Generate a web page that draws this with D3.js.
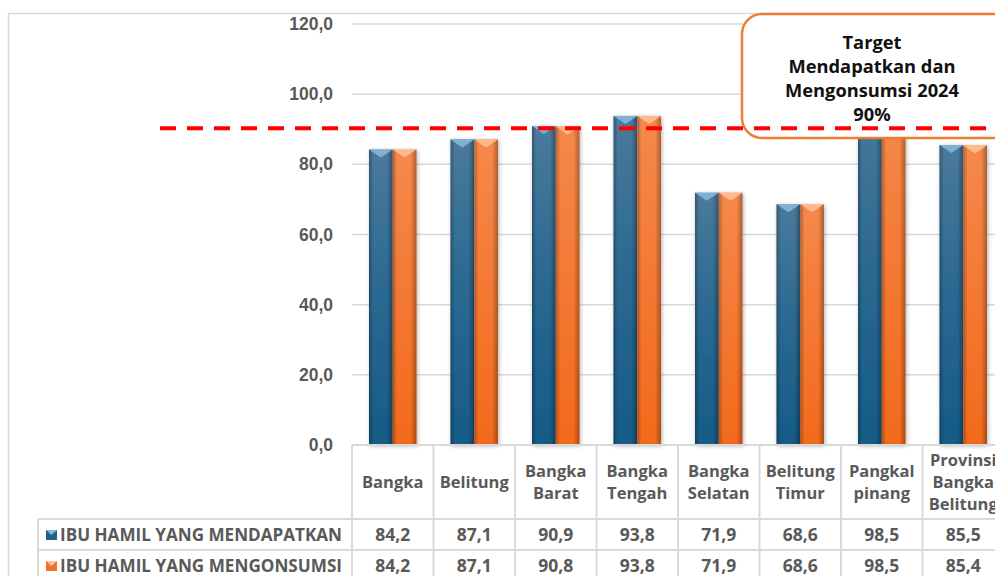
<!DOCTYPE html>
<html>
<head>
<meta charset="utf-8">
<script src="https://cdn.jsdelivr.net/npm/d3@7"></script>
<style>
  html, body { margin: 0; padding: 0; background: #fff; }
  svg { display: block; }
</style>
</head>
<body>
<svg id="chart" width="995" height="576"></svg>
<script>
// ---- data ----
const categories = ["Bangka", "Belitung", "Bangka Barat", "Bangka Tengah", "Bangka Selatan", "Belitung Timur", "Pangkal pinang", "Provinsi Bangka Belitung"];
const categoryLines = [["Bangka"], ["Belitung"], ["Bangka", "Barat"], ["Bangka", "Tengah"], ["Bangka", "Selatan"], ["Belitung", "Timur"], ["Pangkal", "pinang"], ["Provinsi", "Bangka", "Belitung"]];
const seriesNames = ["IBU HAMIL YANG MENDAPATKAN", "IBU HAMIL YANG MENGONSUMSI"];
const mendapatkan = [84.2, 87.1, 90.9, 93.8, 71.9, 68.6, 98.5, 85.5];
const mengonsumsi = [84.2, 87.1, 90.8, 93.8, 71.9, 68.6, 98.5, 85.4];
const yTicks = [0, 20, 40, 60, 80, 100, 120];
const targetValue = 90;
const targetLines = ["Target", "Mendapatkan dan", "Mengonsumsi 2024", "90%"];

const seriesValues = [mendapatkan, mengonsumsi];
const fmt = v => v.toFixed(1).replace(".", ",");

const svg = d3.select("#chart");
const defs = svg.append("defs");

// gradients
function makeGrad(id, stops, horiz) {
  const g = defs.append("linearGradient").attr("id", id)
    .attr("x1", 0).attr("y1", 0).attr("x2", horiz ? 1 : 0).attr("y2", horiz ? 0 : 1);
  stops.forEach(s => g.append("stop").attr("offset", s[0]).attr("stop-color", s[1]).attr("stop-opacity", s[2] == null ? 1 : s[2]));
}
makeGrad("gBlue", [[0, "#4a7a9c"], [0.45, "#2d6a92"], [1, "#155a86"]]);
makeGrad("gOrange", [[0, "#f5894c"], [0.45, "#f47a35"], [1, "#f26a1c"]]);
makeGrad("gEdge", [[0, "#000", 0.28], [0.18, "#000", 0.0], [0.75, "#000", 0.0], [1, "#000", 0.3]], true);

const shadow = defs.append("filter").attr("id", "shadow").attr("x", "-30%").attr("y", "-10%").attr("width", "160%").attr("height", "130%");
shadow.append("feDropShadow").attr("dx", 1).attr("dy", 1).attr("stdDeviation", 2).attr("flood-color", "#000").attr("flood-opacity", 0.3);

const colors = [
  { fill: "url(#gBlue)", top: "#86b6d8", legend: "#1f5f8a" },
  { fill: "url(#gOrange)", top: "#ffc092", legend: "#ee7130" }
];

// ---- scales ----
const y = d3.scaleLinear().domain([0, 120]).range([445, 24]);
const x = d3.scaleBand().domain(categories).range([352, 1004]).padding(0);
const xs = d3.scaleBand().domain(seriesNames).range([17, 64.5]).padding(0);

const grey = "#595959";
const lineGrey = "#d9d9d9";

// outer chart border
svg.append("rect").attr("x", 8.5).attr("y", 13.5).attr("width", 1000).attr("height", 600)
  .attr("fill", "none").attr("stroke", lineGrey).attr("stroke-width", 1.5);

// gridlines
svg.append("g").selectAll("line").data(yTicks.filter(t => t > 0)).join("line")
  .attr("x1", 352).attr("x2", 995)
  .attr("y1", d => y(d)).attr("y2", d => y(d))
  .attr("stroke", lineGrey).attr("stroke-width", 1.5);

// y axis labels
const yAxis = d3.axisLeft(y).tickValues(yTicks).tickFormat(fmt).tickSize(0).tickPadding(0);
const yg = svg.append("g").attr("transform", "translate(333,0)").call(yAxis);
yg.select(".domain").remove();
yg.selectAll("text").attr("fill", grey).attr("font-family", "'Liberation Sans', Arial, sans-serif")
  .attr("font-weight", "bold").attr("font-size", 17.5);

// bars
const groups = svg.append("g").selectAll("g").data(categories).join("g")
  .attr("transform", d => `translate(${x(d)},0)`);

seriesNames.forEach((s, si) => {
  const bw = xs.bandwidth();
  const bg = groups.append("g").attr("filter", "url(#shadow)");
  bg.append("rect")
    .attr("x", xs(s)).attr("width", bw)
    .attr("y", (d, i) => y(seriesValues[si][i]))
    .attr("height", (d, i) => y(0) - y(seriesValues[si][i]))
    .attr("fill", colors[si].fill);
  groups.append("rect")
    .attr("x", xs(s)).attr("width", bw)
    .attr("y", (d, i) => y(seriesValues[si][i]))
    .attr("height", (d, i) => y(0) - y(seriesValues[si][i]))
    .attr("fill", "url(#gEdge)");
  groups.append("path")
    .attr("d", (d, i) => {
      const t = y(seriesValues[si][i]);
      const x0 = xs(s), x1 = xs(s) + bw, xc = x0 + bw / 2;
      return `M${x0},${t}L${x1},${t}L${xc},${t + 8}Z`;
    })
    .attr("fill", colors[si].top).attr("opacity", 0.9);
});

// axis base line
svg.append("line").attr("x1", 352).attr("x2", 995).attr("y1", 445).attr("y2", 445)
  .attr("stroke", lineGrey).attr("stroke-width", 2);

// ---- data table ----
const tg = svg.append("g");
tg.append("line").attr("x1", 38).attr("x2", 995).attr("y1", 519).attr("y2", 519).attr("stroke", lineGrey).attr("stroke-width", 2);
tg.append("line").attr("x1", 38).attr("x2", 995).attr("y1", 550).attr("y2", 550).attr("stroke", lineGrey).attr("stroke-width", 2);
tg.selectAll("line.v").data(categories).join("line").attr("class", "v")
  .attr("x1", d => x(d)).attr("x2", d => x(d)).attr("y1", 445).attr("y2", 576)
  .attr("stroke", lineGrey).attr("stroke-width", 2);
tg.append("line").attr("x1", 38).attr("x2", 38).attr("y1", 519).attr("y2", 576).attr("stroke", lineGrey).attr("stroke-width", 2);

const tFont = "'Open Sans', 'Noto Sans', sans-serif";
// header labels
categoryLines.forEach((lines, ci) => {
  const cx = x(categories[ci]) + x.bandwidth() / 2;
  const n = lines.length;
  const t = tg.append("text").attr("x", cx).attr("text-anchor", "middle")
    .attr("font-family", tFont).attr("font-weight", 700).attr("font-size", 16.5).attr("fill", grey);
  lines.forEach((ln, li) => {
    t.append("tspan").attr("x", cx).attr("y", 482 + (li - (n - 1) / 2) * 22 + 6).text(ln);
  });
});
// values
seriesValues.forEach((vals, si) => {
  const cy = [535, 566][si];
  tg.selectAll(null).data(vals).join("text")
    .attr("x", (d, i) => x(categories[i]) + x.bandwidth() / 2)
    .attr("y", cy + 6)
    .attr("text-anchor", "middle")
    .attr("font-family", tFont).attr("font-weight", 700).attr("font-size", 17.5).attr("fill", grey)
    .text(d => fmt(d));
  const ky = cy - 5;
  tg.append("rect").attr("x", 46).attr("y", ky).attr("width", 11).attr("height", 10)
    .attr("fill", colors[si].legend);
  tg.append("path").attr("d", `M46,${ky}L57,${ky}L51.5,${ky + 5}Z`).attr("fill", colors[si].top);
  tg.append("text").attr("x", 60).attr("y", cy + 6)
    .attr("font-family", tFont).attr("font-weight", 700).attr("font-size", 17).attr("fill", grey)
    .attr("textLength", 282).attr("lengthAdjust", "spacingAndGlyphs")
    .text(seriesNames[si]);
});

// ---- target box ----
svg.append("rect").attr("x", 742).attr("y", 14).attr("width", 290).attr("height", 124).attr("rx", 20)
  .attr("fill", "#fff").attr("stroke", "#ed7d31").attr("stroke-width", 2.5);
const tt = svg.append("text").attr("text-anchor", "middle")
  .attr("font-family", tFont).attr("font-weight", 700).attr("font-size", 18.3).attr("fill", "#111");
targetLines.forEach((ln, i) => {
  tt.append("tspan").attr("x", 872).attr("y", 49 + i * 24).text(ln);
});

// target dashed line
svg.append("line").attr("x1", 160).attr("x2", 995).attr("y1", y(targetValue) - 1).attr("y2", y(targetValue) - 1)
  .attr("stroke", "#ff0000").attr("stroke-width", 4).attr("stroke-dasharray", "16,11");
</script>
</body>
</html>
